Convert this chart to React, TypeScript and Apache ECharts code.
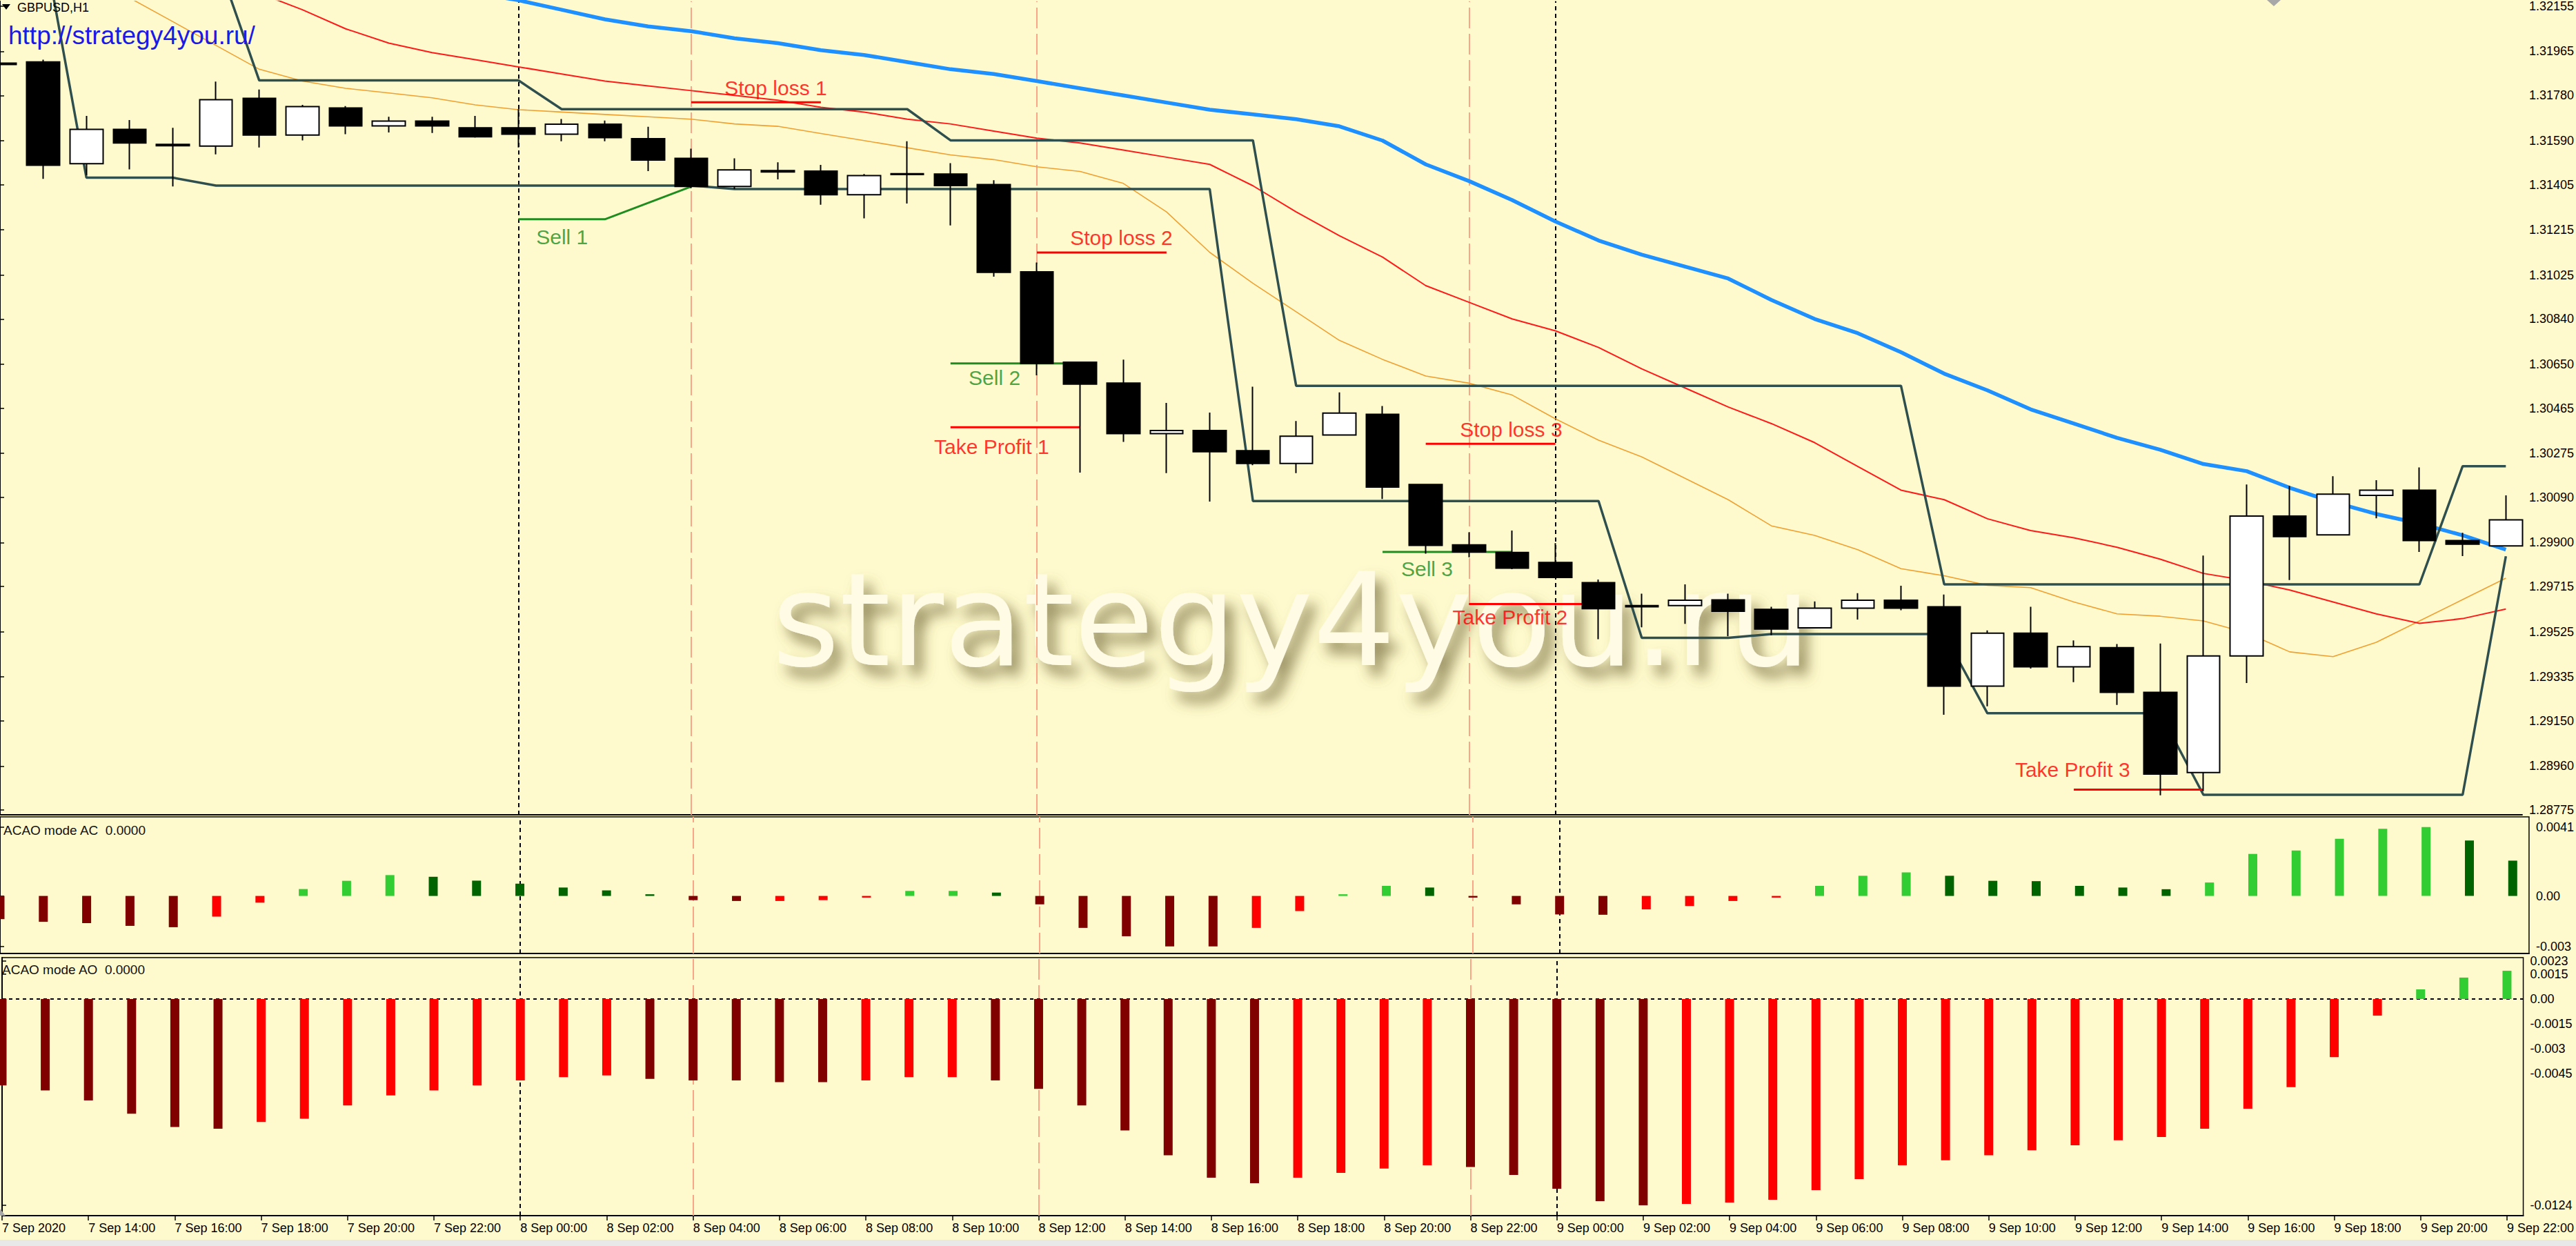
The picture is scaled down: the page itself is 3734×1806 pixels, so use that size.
import React, { useEffect, useRef } from 'react';
import * as echarts from 'echarts';

// ---------- DATA ----------
// candle index 0 = 7 Sep 2020 12:00, one candle per hour, 59 candles
const candleOpen = [1.31916, 1.31921, 1.31493, 1.31637, 1.31574, 1.31567, 1.31768, 1.31613, 1.31727, 1.31652, 1.31672, 1.31644, 1.31644, 1.31617, 1.31659, 1.31598, 1.31515, 1.31397, 1.31464, 1.31462, 1.31362, 1.31451, 1.31449, 1.31405, 1.31038, 1.30658, 1.30570, 1.30358, 1.30371, 1.30286, 1.30232, 1.30352, 1.30439, 1.30144, 1.29890, 1.29858, 1.29816, 1.29731, 1.29635, 1.29635, 1.29659, 1.29619, 1.29541, 1.29624, 1.29657, 1.29630, 1.29296, 1.29519, 1.29377, 1.29458, 1.29270, 1.28933, 1.29423, 1.30011, 1.29932, 1.30098, 1.30120, 1.29908, 1.29886];
const candleClose = [1.31910, 1.31486, 1.31637, 1.31580, 1.31568, 1.31762, 1.31613, 1.31733, 1.31652, 1.31672, 1.31652, 1.31606, 1.31617, 1.31659, 1.31602, 1.31508, 1.31397, 1.31467, 1.31458, 1.31362, 1.31443, 1.31447, 1.31401, 1.31036, 1.30653, 1.30566, 1.30358, 1.30371, 1.30282, 1.30232, 1.30347, 1.30444, 1.30133, 1.29888, 1.29860, 1.29792, 1.29753, 1.29622, 1.29630, 1.29657, 1.29611, 1.29536, 1.29624, 1.29657, 1.29624, 1.29296, 1.29519, 1.29377, 1.29462, 1.29270, 1.28926, 1.29423, 1.30011, 1.29925, 1.30103, 1.30120, 1.29908, 1.29893, 1.29995];
const candleLow = [1.31900, 1.31429, 1.31445, 1.31469, 1.31397, 1.31532, 1.31561, 1.31591, 1.31617, 1.31624, 1.31622, 1.31602, 1.31561, 1.31587, 1.31587, 1.31462, 1.31390, 1.31386, 1.31427, 1.31320, 1.31263, 1.31325, 1.31233, 1.31018, 1.30603, 1.30194, 1.30323, 1.30192, 1.30072, 1.30225, 1.30192, 1.30352, 1.30083, 1.29853, 1.29838, 1.29788, 1.29753, 1.29493, 1.29543, 1.29558, 1.29506, 1.29510, 1.29541, 1.29576, 1.29615, 1.29176, 1.29211, 1.29370, 1.29313, 1.29217, 1.28837, 1.28854, 1.29309, 1.29742, 1.29932, 1.30002, 1.29860, 1.29843, 1.29886];
const candleHigh = [1.31930, 1.31930, 1.31694, 1.31676, 1.31644, 1.31838, 1.31805, 1.31740, 1.31735, 1.31690, 1.31690, 1.31694, 1.31722, 1.31681, 1.31674, 1.31648, 1.31556, 1.31515, 1.31499, 1.31488, 1.31449, 1.31587, 1.31495, 1.31423, 1.31077, 1.30658, 1.30669, 1.30487, 1.30446, 1.30555, 1.30411, 1.30531, 1.30474, 1.30144, 1.29943, 1.29950, 1.29897, 1.29744, 1.29685, 1.29724, 1.29685, 1.29630, 1.29652, 1.29687, 1.29718, 1.29681, 1.29530, 1.29630, 1.29488, 1.29473, 1.29475, 1.29845, 1.30144, 1.30138, 1.30179, 1.30162, 1.30216, 1.29941, 1.30098];

const maBlue = [1.3260, 1.3256, 1.3253, 1.3249, 1.3246, 1.3242, 1.3239, 1.3235, 1.3232, 1.3228, 1.3225, 1.3221, 1.3218, 1.3214, 1.3210, 1.3207, 1.3205, 1.3202, 1.3200, 1.3197, 1.3195, 1.3192, 1.3189, 1.3187, 1.3184, 1.3181, 1.3178, 1.3175, 1.3172, 1.3170, 1.3168, 1.3165, 1.3159, 1.3149, 1.3142, 1.3134, 1.3125, 1.3117, 1.3111, 1.3106, 1.3101, 1.3092, 1.3084, 1.3078, 1.3070, 1.3061, 1.3054, 1.3046, 1.3040, 1.3034, 1.3029, 1.3023, 1.3020, 1.3013, 1.3007, 1.3002, 1.2998, 1.2993, 1.2987];
const maRed = [1.3263, 1.3256, 1.3249, 1.3242, 1.3235, 1.3228, 1.3221, 1.3214, 1.3206, 1.3200, 1.3196, 1.3193, 1.3190, 1.3187, 1.3184, 1.3182, 1.3180, 1.3178, 1.3176, 1.3173, 1.3171, 1.3168, 1.3166, 1.3163, 1.3160, 1.3158, 1.3155, 1.3152, 1.3149, 1.3140, 1.3129, 1.3119, 1.3110, 1.3098, 1.3091, 1.3084, 1.3079, 1.3072, 1.3063, 1.3055, 1.3047, 1.3040, 1.3032, 1.3022, 1.3012, 1.3008, 1.3000, 1.2995, 1.2992, 1.2988, 1.2983, 1.2977, 1.2974, 1.2970, 1.2965, 1.2960, 1.2956, 1.2958, 1.2962];
const maOrange = [1.3248, 1.3238, 1.3229, 1.3219, 1.3209, 1.3199, 1.3189, 1.3184, 1.3181, 1.3179, 1.3177, 1.3174, 1.3172, 1.3171, 1.3170, 1.3169, 1.3168, 1.3166, 1.3165, 1.3162, 1.3159, 1.3156, 1.3153, 1.3151, 1.3148, 1.3146, 1.3141, 1.3129, 1.3112, 1.3099, 1.3087, 1.3075, 1.3067, 1.3060, 1.3057, 1.3052, 1.3042, 1.3033, 1.3026, 1.3017, 1.3008, 1.2997, 1.2993, 1.2987, 1.2979, 1.2976, 1.2972, 1.2971, 1.2965, 1.2960, 1.2959, 1.2957, 1.2952, 1.2944, 1.2942, 1.2948, 1.2957, 1.2966, 1.2975];

const channelUpper = [null, null, null, null, null, 1.32363, 1.31843, 1.31843, 1.31843, 1.31843, 1.31843, 1.31843, 1.31843, 1.31722, 1.31722, 1.31722, 1.31722, 1.31722, 1.31722, 1.31722, 1.31722, 1.31722, 1.31591, 1.31591, 1.31591, 1.31591, 1.31591, 1.31591, 1.31591, 1.31591, 1.30559, 1.30559, 1.30559, 1.30559, 1.30559, 1.30559, 1.30559, 1.30559, 1.30559, 1.30559, 1.30559, 1.30559, 1.30559, 1.30559, 1.30559, 1.29724, 1.29724, 1.29724, 1.29724, 1.29724, 1.29724, 1.29724, 1.29724, 1.29724, 1.29724, 1.29724, 1.29724, 1.30221, 1.30221];
const channelLower = [null, 1.32430, 1.31434, 1.31434, 1.31434, 1.31401, 1.31401, 1.31401, 1.31401, 1.31401, 1.31401, 1.31401, 1.31401, 1.31401, 1.31401, 1.31401, 1.31401, 1.31386, 1.31386, 1.31386, 1.31386, 1.31386, 1.31386, 1.31386, 1.31386, 1.31386, 1.31386, 1.31386, 1.31386, 1.30074, 1.30074, 1.30074, 1.30074, 1.30074, 1.30074, 1.30074, 1.30074, 1.30074, 1.29499, 1.29499, 1.29499, 1.29515, 1.29515, 1.29515, 1.29515, 1.29515, 1.29182, 1.29182, 1.29182, 1.29182, 1.29182, 1.28839, 1.28839, 1.28839, 1.28839, 1.28839, 1.28839, 1.28839, 1.29842];

// AC / AO histograms; colour codes: D dark red, R red, G lime, E dark green
const acValues = [-0.00138, -0.00154, -0.00162, -0.00178, -0.00186, -0.00123, -0.00040, 0.00041, 0.00090, 0.00124, 0.00114, 0.00091, 0.00073, 0.00050, 0.00033, 0.00010, -0.00025, -0.00030, -0.00030, -0.00025, -0.00010, 0.00030, 0.00030, 0.00020, -0.00050, -0.00190, -0.00240, -0.00300, -0.00300, -0.00190, -0.00090, 0.00010, 0.00060, 0.00050, -0.00010, -0.00050, -0.00110, -0.00112, -0.00080, -0.00060, -0.00030, -0.00010, 0.00060, 0.00120, 0.00140, 0.00120, 0.00090, 0.00088, 0.00060, 0.00050, 0.00040, 0.00080, 0.00250, 0.00270, 0.00340, 0.00400, 0.00410, 0.00330, 0.00210];
const acColors = ['D', 'D', 'D', 'D', 'D', 'R', 'R', 'G', 'G', 'G', 'E', 'E', 'E', 'E', 'E', 'E', 'D', 'D', 'R', 'R', 'R', 'G', 'G', 'E', 'D', 'D', 'D', 'D', 'D', 'R', 'R', 'G', 'G', 'E', 'D', 'D', 'D', 'D', 'R', 'R', 'R', 'R', 'G', 'G', 'G', 'E', 'E', 'E', 'E', 'E', 'E', 'G', 'G', 'G', 'G', 'G', 'G', 'E', 'E'];
const aoValues = [-0.0052, -0.0055, -0.0061, -0.0069, -0.0077, -0.0078, -0.0074, -0.0072, -0.0064, -0.0058, -0.0055, -0.0052, -0.0049, -0.0047, -0.0046, -0.0048, -0.0049, -0.0049, -0.0050, -0.0050, -0.0049, -0.0047, -0.0047, -0.0049, -0.0054, -0.0064, -0.0079, -0.0094, -0.01075, -0.01108, -0.01075, -0.01046, -0.0102, -0.0100, -0.0101, -0.01058, -0.01141, -0.01216, -0.01241, -0.01232, -0.01224, -0.01207, -0.01149, -0.01083, -0.0100, -0.0097, -0.0094, -0.0091, -0.0088, -0.0085, -0.0083, -0.0078, -0.0066, -0.0053, -0.0035, -0.0010, 0.00058, 0.00129, 0.0017];
const aoColors = ['D', 'D', 'D', 'D', 'D', 'D', 'R', 'R', 'R', 'R', 'R', 'R', 'R', 'R', 'R', 'D', 'D', 'D', 'D', 'D', 'R', 'R', 'R', 'D', 'D', 'D', 'D', 'D', 'D', 'D', 'R', 'R', 'R', 'R', 'D', 'D', 'D', 'D', 'D', 'R', 'R', 'R', 'R', 'R', 'R', 'R', 'R', 'R', 'R', 'R', 'R', 'R', 'R', 'R', 'R', 'R', 'G', 'G', 'G'];

const xTickIndex = [0, 2, 4, 6, 8, 10, 12, 14, 16, 18, 20, 22, 24, 26, 28, 30, 32, 34, 36, 38, 40, 42, 44, 46, 48, 50, 52, 54, 56, 58];
const xTickLabels = ['7 Sep 2020', '7 Sep 14:00', '7 Sep 16:00', '7 Sep 18:00', '7 Sep 20:00', '7 Sep 22:00', '8 Sep 00:00', '8 Sep 02:00', '8 Sep 04:00', '8 Sep 06:00', '8 Sep 08:00', '8 Sep 10:00', '8 Sep 12:00', '8 Sep 14:00', '8 Sep 16:00', '8 Sep 18:00', '8 Sep 20:00', '8 Sep 22:00', '9 Sep 00:00', '9 Sep 02:00', '9 Sep 04:00', '9 Sep 06:00', '9 Sep 08:00', '9 Sep 10:00', '9 Sep 12:00', '9 Sep 14:00', '9 Sep 16:00', '9 Sep 18:00', '9 Sep 20:00', '9 Sep 22:00'];
const priceTicks = [1.32155, 1.31965, 1.31780, 1.31590, 1.31405, 1.31215, 1.31025, 1.30840, 1.30650, 1.30465, 1.30275, 1.30090, 1.29900, 1.29715, 1.29525, 1.29335, 1.29150, 1.28960, 1.28775];
const acTicks = [0.0041, 0, -0.003];
const acTickLabels = ['0.0041', '0.00', '-0.003'];
const aoTicks = [0.0023, 0.0015, 0, -0.0015, -0.003, -0.0045, -0.0124];
const aoTickLabels = ['0.0023', '0.0015', '0.00', '-0.0015', '-0.003', '-0.0045', '-0.0124'];
const aoLevels = [0.0015, -0.0015, -0.003, -0.0045];

const dayLines = [12, 36];
const tradeLines = [16, 24, 34];

const stopLossLines = [
  [[16, 1.31751], [19, 1.31751]],
  [[24, 1.31119], [27, 1.31119]],
  [[33, 1.30315], [36, 1.30315]],
];
const takeProfitLines = [
  [[22, 1.30385], [25, 1.30385]],
  [[34, 1.29641], [37, 1.29641]],
  [[48, 1.28861], [51, 1.28861]],
];
const sellLines = [
  [[12, 1.31259], [14, 1.31259], [16, 1.31397]],
  [[22, 1.30653], [25, 1.30653]],
  [[32, 1.29860], [35, 1.29860]],
];
const noteTexts = ['Stop loss 1', 'Sell 1', 'Stop loss 2', 'Sell 2', 'Take Profit 1', 'Stop loss 3', 'Sell 3', 'Take Profit 2', 'Take Profit 3'];
const noteX = [16.77, 12.41, 24.77, 22.42, 21.62, 33.79, 32.43, 33.62, 46.64];
const noteY = [1.31811, 1.31186, 1.31183, 1.30592, 1.30302, 1.30375, 1.29789, 1.29587, 1.28946];
const noteKind = ['loss', 'sell', 'loss', 'sell', 'profit', 'loss', 'sell', 'profit', 'profit'];

// ---------- STYLE ----------
const BG = '#FFFACD';
const FONT = '"Liberation Sans", Arial, sans-serif';
const barColor: Record<string, string> = { D: '#800000', R: '#FF0000', G: '#32CD32', E: '#006400' };
const RED = '#FF0000';
const GREEN = '#1E8C1E';

export default function App() {
  const ref = useRef<HTMLDivElement>(null);

  useEffect(() => {
    document.body.style.margin = '0';
    document.body.style.background = BG;
    if (!ref.current) return;
    const chart = echarts.init(ref.current, undefined, { renderer: 'svg' });

    const xMax = 58.377;
    const gridLeft = -3;
    const gridWidth = 3669;

    const vLineSeries = (k: number) => ({
      type: 'line',
      xAxisIndex: k,
      yAxisIndex: k,
      data: [],
      silent: true,
      markLine: {
        silent: true,
        z: 1,
        symbol: ['none', 'none'],
        label: { show: false },
        animation: false,
        data: [
          ...dayLines.map((x) => ({ xAxis: x, lineStyle: { color: '#000', width: 2, type: [6, 5] } })),
          ...tradeLines.map((x) => ({ xAxis: x, lineStyle: { color: '#F9A588', width: 2, type: [30, 8] } })),
        ],
      },
    });

    const segSeries = (pts: number[][], color: string) => ({
      type: 'line',
      xAxisIndex: 0,
      yAxisIndex: 0,
      data: pts,
      symbol: 'none',
      silent: true,
      z: 3,
      lineStyle: { color, width: 3 },
    });

    const maSeries = (vals: (number | null)[], color: string, width: number) => ({
      type: 'line',
      xAxisIndex: 0,
      yAxisIndex: 0,
      data: vals.map((v, i) => [i, v]),
      symbol: 'none',
      silent: true,
      z: 2,
      connectNulls: false,
      lineStyle: { color, width },
    });

    const yAxisBase = {
      type: 'value',
      position: 'right',
      splitLine: { show: false },
      axisLine: { show: true, lineStyle: { color: '#000', width: 2 } },
      axisLabel: { fontFamily: FONT, fontSize: 18, color: '#000', margin: 10 },
      axisTick: { show: true, length: 6, lineStyle: { color: '#000', width: 1.5 } },
    };

    const option: any = {
      animation: false,
      backgroundColor: BG,
      grid: [
        { left: gridLeft, top: 0, width: gridWidth, height: 1181, show: false },
        { left: gridLeft, top: 1184, width: gridWidth, height: 198, show: true, borderColor: '#000', borderWidth: 1.5, backgroundColor: 'transparent' },
        { left: gridLeft, top: 1388, width: gridWidth, height: 374, show: true, borderColor: '#000', borderWidth: 1.5, backgroundColor: 'transparent' },
      ],
      xAxis: [0, 1, 2].map((k) => ({
        type: 'value',
        gridIndex: k,
        min: 0,
        max: xMax,
        splitLine: { show: false },
        axisLine: { show: true, onZero: false, lineStyle: { color: '#000', width: 2 } },
        axisTick: k === 2
          ? { show: true, customValues: xTickIndex, length: 7, lineStyle: { color: '#000', width: 1.5 } }
          : { show: false },
        axisLabel: k === 2
          ? {
              show: true,
              customValues: xTickIndex,
              fontFamily: FONT,
              fontSize: 18,
              color: '#000',
              align: 'left',
              margin: 9,
              formatter: (v: number) => {
                const idx = xTickIndex.indexOf(Math.round(v));
                return idx >= 0 ? xTickLabels[idx] : '';
              },
            }
          : { show: false },
      })),
      yAxis: [
        {
          ...yAxisBase,
          gridIndex: 0,
          min: 1.28755,
          max: 1.32176,
          axisTick: { ...yAxisBase.axisTick, customValues: priceTicks },
          axisLabel: { ...yAxisBase.axisLabel, customValues: priceTicks, formatter: (v: number) => v.toFixed(5) },
        },
        {
          ...yAxisBase,
          gridIndex: 1,
          min: -0.003423,
          max: 0.004703,
          axisTick: { ...yAxisBase.axisTick, customValues: acTicks },
          axisLabel: {
            ...yAxisBase.axisLabel,
            customValues: acTicks,
            formatter: (v: number) => {
              const idx = acTicks.findIndex((t) => Math.abs(t - v) < 1e-7);
              return idx >= 0 ? acTickLabels[idx] : '';
            },
          },
        },
        {
          ...yAxisBase,
          gridIndex: 2,
          min: -0.013029,
          max: 0.00249,
          axisTick: { ...yAxisBase.axisTick, customValues: aoTicks },
          axisLabel: {
            ...yAxisBase.axisLabel,
            customValues: aoTicks,
            formatter: (v: number) => {
              const idx = aoTicks.findIndex((t) => Math.abs(t - v) < 1e-7);
              return idx >= 0 ? aoTickLabels[idx] : '';
            },
          },
        },
      ],
      series: [
        vLineSeries(0),
        vLineSeries(1),
        vLineSeries(2),
        maSeries(maOrange, '#F0A030', 1.6),
        maSeries(maRed, '#FF1A1A', 2),
        maSeries(maBlue, '#1E90FF', 5.5),
        maSeries(channelUpper, '#2F4F4F', 3.5),
        maSeries(channelLower, '#2F4F4F', 3.5),
        ...stopLossLines.map((p) => segSeries(p, RED)),
        ...takeProfitLines.map((p) => segSeries(p, RED)),
        ...sellLines.map((p) => segSeries(p, GREEN)),
        {
          type: 'candlestick',
          xAxisIndex: 0,
          yAxisIndex: 0,
          z: 4,
          barWidth: 48,
          silent: true,
          encode: { x: 0, y: [1, 2, 3, 4] },
          data: candleOpen.map((o, i) => [i, o, candleClose[i], candleLow[i], candleHigh[i]]),
          itemStyle: { color: '#FFFFFF', color0: '#000000', borderColor: '#000000', borderColor0: '#000000', borderWidth: 2 },
        },
        {
          type: 'scatter',
          xAxisIndex: 0,
          yAxisIndex: 0,
          z: 6,
          silent: true,
          symbolSize: 0,
          data: noteTexts.map((t, i) => ({
            value: [noteX[i], noteY[i]],
            label: { formatter: t, color: noteKind[i] === 'sell' ? GREEN : RED },
          })),
          label: { show: true, position: 'inside', align: 'left', verticalAlign: 'middle', fontFamily: FONT, fontSize: 30, lineHeight: 30 },
        },
        {
          type: 'bar',
          xAxisIndex: 1,
          yAxisIndex: 1,
          barWidth: 13,
          silent: true,
          z: 3,
          data: acValues.map((v, i) => ({ value: [i, v], itemStyle: { color: barColor[acColors[i]] } })),
        },
        {
          type: 'bar',
          xAxisIndex: 2,
          yAxisIndex: 2,
          barWidth: 13,
          silent: true,
          z: 3,
          data: aoValues.map((v, i) => ({ value: [i, v], itemStyle: { color: barColor[aoColors[i]] } })),
          markLine: {
            silent: true,
            z: 2,
            symbol: ['none', 'none'],
            label: { show: false },
            lineStyle: { color: '#000', width: 1.5, type: [5, 5] },
            data: aoLevels.map((v) => ({ yAxis: v })),
          },
        },
      ],
      graphic: [
        {
          type: 'text',
          z: 0,
          silent: true,
          style: {
            text: 'strategy4you.ru',
            x: 1119,
            y: 898,
            font: '188px "DejaVu Sans", Verdana, sans-serif',
            lineHeight: 96,
            fill: '#FFFBE4',
            align: 'left',
            verticalAlign: 'middle',
            textAlign: 'left',
            textVerticalAlign: 'middle',
            textShadowColor: 'rgba(105, 95, 45, 0.7)',
            textShadowBlur: 20,
            textShadowOffsetX: 12,
            textShadowOffsetY: 15,
          },
        },
        { type: 'polygon', z: 10, silent: true, shape: { points: [[3, 6], [15, 6], [9, 14]] }, style: { fill: '#000' } },
        { type: 'text', z: 10, silent: true, style: { text: 'GBPUSD,H1', x: 25, y: 11, font: '18px ' + FONT, fill: '#000', verticalAlign: 'middle', textVerticalAlign: 'middle' } },
        { type: 'text', z: 10, silent: true, style: { text: 'http://strategy4you.ru/', x: 12, y: 51, font: '37px ' + FONT, fill: '#1A1AE6', verticalAlign: 'middle', textVerticalAlign: 'middle' } },
        { type: 'text', z: 10, silent: true, style: { text: 'ACAO mode AC  0.0000', x: 5, y: 1203, font: '19px ' + FONT, fill: '#111', verticalAlign: 'middle', textVerticalAlign: 'middle' } },
        { type: 'text', z: 10, silent: true, style: { text: 'ACAO mode AO  0.0000', x: 3, y: 1405, font: '19px ' + FONT, fill: '#111', verticalAlign: 'middle', textVerticalAlign: 'middle' } },
        { type: 'polygon', z: 10, silent: true, shape: { points: [[3286, 0], [3306, 0], [3296, 9]] }, style: { fill: '#A8A8A8' } },
        { type: 'polygon', z: 10, silent: true, shape: { points: [[0, 1752], [8, 1762], [0, 1762]] }, style: { fill: '#A8A8A8' } },
        { type: 'rect', z: 10, silent: true, shape: { x: 0, y: 1797, width: 3734, height: 9 }, style: { fill: '#E8E8E8' } },
      ],
    };

    chart.setOption(option);
    return () => chart.dispose();
  }, []);

  return <div ref={ref} style={{ width: 3734, height: 1806 }} />;
}
